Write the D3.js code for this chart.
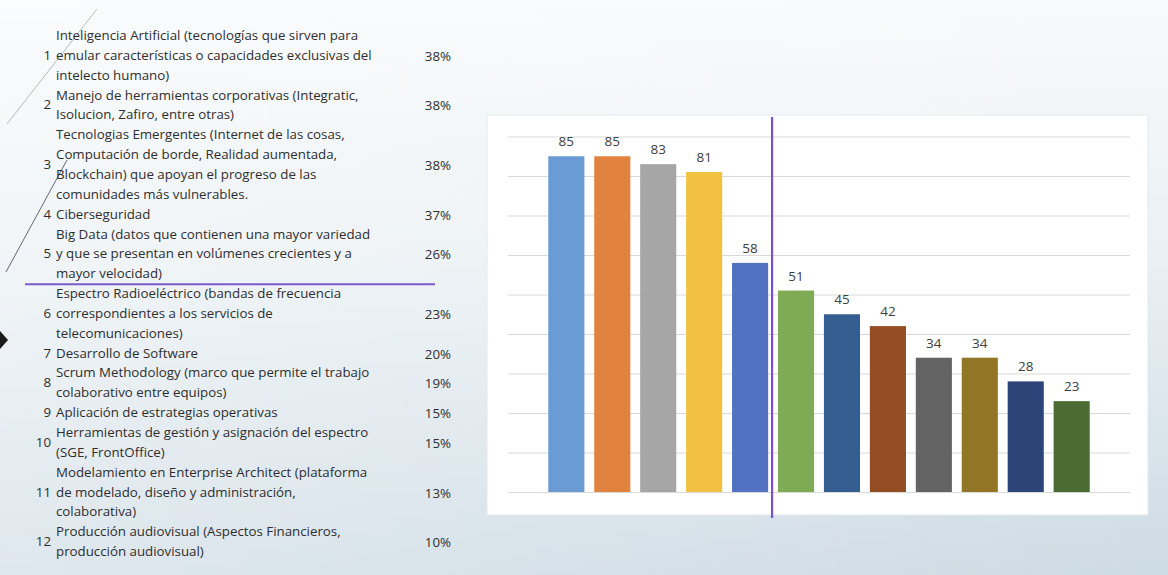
<!DOCTYPE html>
<html>
<head>
<meta charset="utf-8">
<script src="https://cdn.jsdelivr.net/npm/d3@7"></script>
<style>
  html, body { margin: 0; padding: 0; }
  body { width: 1168px; height: 575px; overflow: hidden; }
  svg { display: block; }
</style>
</head>
<body>
<svg id="chart" width="1168" height="575"></svg>
<script>
// ---------------- DATA ----------------
const itemNumbers = ["1","2","3","4","5","6","7","8","9","10","11","12"];
const itemLines = [
  ["Inteligencia Artificial (tecnologías que sirven para", "emular características o capacidades exclusivas del", "intelecto humano)"],
  ["Manejo de herramientas corporativas (Integratic,", "Isolucion, Zafiro, entre otras)"],
  ["Tecnologias Emergentes (Internet de las cosas,", "Computación de borde, Realidad aumentada,", "Blockchain) que apoyan el progreso de las", "comunidades más vulnerables."],
  ["Ciberseguridad"],
  ["Big Data (datos que contienen una mayor variedad", "y que se presentan en volúmenes crecientes y a", "mayor velocidad)"],
  ["Espectro Radioeléctrico (bandas de frecuencia", "correspondientes a los servicios de", "telecomunicaciones)"],
  ["Desarrollo de Software"],
  ["Scrum Methodology (marco que permite el trabajo", "colaborativo entre equipos)"],
  ["Aplicación de estrategias operativas"],
  ["Herramientas de gestión y asignación del espectro", "(SGE, FrontOffice)"],
  ["Modelamiento en Enterprise Architect (plataforma", "de modelado, diseño y administración,", "colaborativa)"],
  ["Producción audiovisual (Aspectos Financieros,", "producción audiovisual)"]
];
const itemPercents = ["38%","38%","38%","37%","26%","23%","20%","19%","15%","15%","13%","10%"];

const barCategories = itemNumbers;
const barValues = [85, 85, 83, 81, 58, 51, 45, 42, 34, 34, 28, 23];
const barColors = ["#6a9bd4","#e2823f","#a6a6a6","#f2c142","#5271c0","#7eab54","#335e8f","#944d22","#646464","#937526","#2c4477","#4a6b33"];
const gridTicks = [0, 10, 20, 30, 40, 50, 60, 70, 80, 90];
const cutoffCount = 5; // top items separated by the purple lines

// ---------------- DRAW ----------------
const svg = d3.select("#chart");
const W = 1168, H = 575;

const defs = svg.append("defs");
const bg = defs.append("linearGradient").attr("id","bg").attr("x1",0).attr("y1",0).attr("x2",0).attr("y2",1);
bg.append("stop").attr("offset","0%").attr("stop-color","#f8fafc");
bg.append("stop").attr("offset","45%").attr("stop-color","#eaf0f4");
bg.append("stop").attr("offset","100%").attr("stop-color","#cddbe4");
const bgH = defs.append("linearGradient").attr("id","bgh").attr("x1",0).attr("y1",0).attr("x2",1).attr("y2",0);
bgH.append("stop").attr("offset","0%").attr("stop-color","#ffffff").attr("stop-opacity",0.35);
bgH.append("stop").attr("offset","100%").attr("stop-color","#ffffff").attr("stop-opacity",0);

svg.append("rect").attr("width",W).attr("height",H).attr("fill","url(#bg)");
svg.append("rect").attr("width",W).attr("height",H).attr("fill","url(#bgh)");

// decorative diagonal lines on the left
svg.append("line").attr("x1",97).attr("y1",9).attr("x2",7).attr("y2",124)
  .attr("stroke","#a2aab2").attr("stroke-width",0.8);
svg.append("line").attr("x1",67).attr("y1",160).attr("x2",6).attr("y2",272)
  .attr("stroke","#4f5760").attr("stroke-width",0.9);
// small black triangle on left edge
svg.append("path").attr("d","M0,331 L8,340 L0,349 Z").attr("fill","#1a1a1a");

// ---------- Left table ----------
const font = "'Open Sans', Lato, sans-serif";
const textColor = "#2e2e2e";
const lineH = 19.85;
const firstLineY = 35;
const table = svg.append("g").attr("font-family", font).attr("font-size", 13.3).attr("fill", textColor);

let lineIdx = 0;
itemLines.forEach((lines, i) => {
  const yTop = firstLineY + lineIdx * lineH;
  const yMid = yTop + (lines.length - 1) * lineH / 2;
  lines.forEach((t, j) => {
    table.append("text").attr("x", 56).attr("y", yTop + j * lineH)
      .attr("dominant-baseline","central").text(t);
  });
  table.append("text").attr("x", 51).attr("y", yMid)
    .attr("text-anchor","end").attr("dominant-baseline","central").text(itemNumbers[i]);
  table.append("text").attr("x", 451).attr("y", yMid + 1)
    .attr("text-anchor","end").attr("dominant-baseline","central").text(itemPercents[i]);
  lineIdx += lines.length;
  if (i === cutoffCount - 1) {
    const ySep = firstLineY + (lineIdx - 1) * lineH + 11;
    svg.append("line").attr("x1",25).attr("x2",435).attr("y1",ySep).attr("y2",ySep)
      .attr("stroke","#7b5cc6").attr("stroke-width",2);
  }
});

// ---------- Chart panel ----------
svg.append("rect").attr("x",487).attr("y",115).attr("width",661).attr("height",400)
  .attr("fill","#ffffff").attr("stroke","#e4e9ee").attr("stroke-width",1);

const x = d3.scaleBand().domain(barCategories).range([508, 1130])
  .paddingInner(0.214).paddingOuter(0.877);
const y = d3.scaleLinear().domain([0, 90]).range([492, 136.5]);

// gridlines via axis
const gAxis = svg.append("g").attr("transform","translate(508,0)")
  .call(d3.axisLeft(y).tickValues(gridTicks).tickSize(-(1130-508)).tickFormat(""));
gAxis.select(".domain").remove();
gAxis.selectAll(".tick line").attr("stroke","#d9d9d9").attr("stroke-width",1.2);

// bars
svg.append("g").selectAll("rect").data(barValues).join("rect")
  .attr("x", (d,i) => x(barCategories[i]))
  .attr("y", d => y(d))
  .attr("width", x.bandwidth())
  .attr("height", d => y(0) - y(d))
  .attr("fill", (d,i) => barColors[i]);

// labels
svg.append("g").attr("font-family", font).attr("font-size", 13.5).attr("fill","#404040")
  .selectAll("text").data(barValues).join("text")
  .attr("x", (d,i) => x(barCategories[i]) + x.bandwidth()/2)
  .attr("y", d => y(d) - 10)
  .attr("text-anchor","middle")
  .text(d => d);

// vertical purple cutoff line
const xCut = x(barCategories[cutoffCount-1]) + x.bandwidth() + (x.step() - x.bandwidth())/2 - 1;
svg.append("line").attr("x1",xCut).attr("x2",xCut).attr("y1",117).attr("y2",518)
  .attr("stroke","#7b4fd0").attr("stroke-width",2.2);
</script>
</body>
</html>
